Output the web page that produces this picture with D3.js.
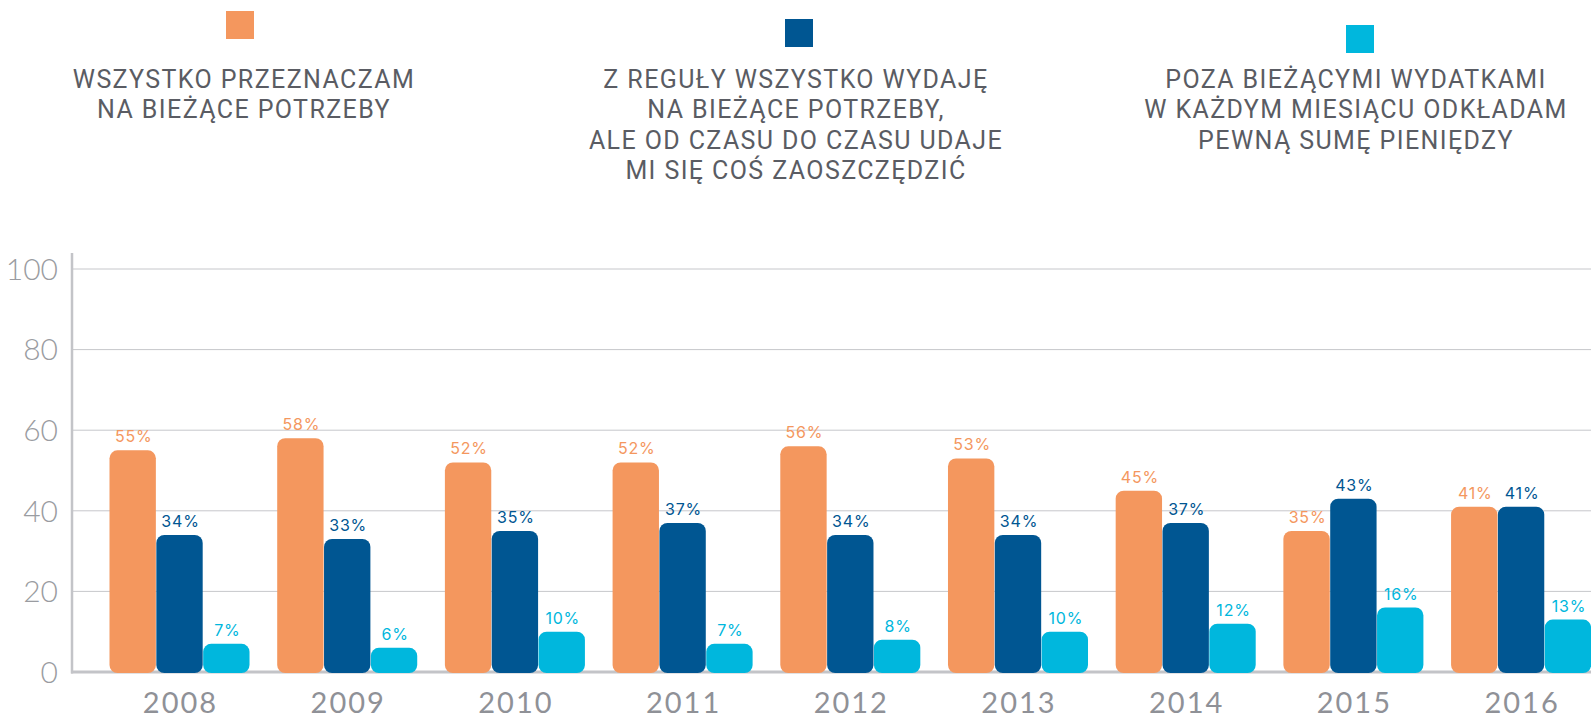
<!DOCTYPE html>
<html>
<head>
<meta charset="utf-8">
<script src="https://cdn.jsdelivr.net/npm/d3@7"></script>
<style>
  html, body { margin: 0; padding: 0; background: #ffffff; }
  svg { display: block; }
</style>
</head>
<body>
<svg id="chart" width="1591" height="720"></svg>
<script>
// Survey years and answer shares (%)
const years = ["2008", "2009", "2010", "2011", "2012", "2013", "2014", "2015", "2016"];
const spendAll = [55, 58, 52, 52, 56, 53, 45, 35, 41];
const spendMostlySaveSometimes = [34, 33, 35, 37, 34, 34, 37, 43, 41];
const saveMonthly = [7, 6, 10, 7, 8, 10, 12, 16, 13];
const yTicks = [0, 20, 40, 60, 80, 100];

const seriesNames = [
  ["WSZYSTKO PRZEZNACZAM", "NA BIEŻĄCE POTRZEBY"],
  ["Z REGUŁY WSZYSTKO WYDAJĘ", "NA BIEŻĄCE POTRZEBY,", "ALE OD CZASU DO CZASU UDAJE", "MI SIĘ COŚ ZAOSZCZĘDZIĆ"],
  ["POZA BIEŻĄCYMI WYDATKAMI", "W KAŻDYM MIESIĄCU ODKŁADAM", "PEWNĄ SUMĘ PIENIĘDZY"]
];
const seriesKeys = ["a", "b", "c"];
const colors = ["#f4975e", "#005692", "#00b7dd"];

const rows = years.map((y, i) => ({
  year: y,
  a: spendAll[i],
  b: spendMostlySaveSometimes[i],
  c: saveMonthly[i]
}));

const svg = d3.select("#chart");
const W = 1591;

const y = d3.scaleLinear().domain([0, 100]).range([672, 269]);

const x = d3.scaleBand()
  .domain(years)
  .range([109.5, 1591.1])
  .paddingInner(0.165)
  .paddingOuter(0);

const xInner = d3.scaleBand()
  .domain(seriesKeys)
  .range([0, x.bandwidth()])
  .paddingInner(0.01);

// Horizontal gridlines
svg.append("g")
  .selectAll("line")
  .data(yTicks.filter(t => t > 0))
  .join("line")
  .attr("x1", 72).attr("x2", W)
  .attr("y1", d => y(d)).attr("y2", d => y(d))
  .attr("stroke", "#c6c7cb")
  .attr("stroke-width", 1);

// Axis lines
svg.append("line")
  .attr("x1", 72).attr("x2", 72)
  .attr("y1", 253).attr("y2", y(0) + 1.5)
  .attr("stroke", "#c3c4c8").attr("stroke-width", 2.5);
svg.append("line")
  .attr("x1", 71).attr("x2", W)
  .attr("y1", y(0)).attr("y2", y(0))
  .attr("stroke", "#c3c4c8").attr("stroke-width", 3);

// Y tick labels
svg.append("g")
  .selectAll("text")
  .data(yTicks)
  .join("text")
  .attr("x", 58)
  .attr("y", d => y(d))
  .attr("dy", "0.36em")
  .attr("text-anchor", "end")
  .attr("font-family", "Lato")
  .attr("font-weight", 300)
  .attr("font-size", 30)
  .attr("fill", "#9a9ca1")
  .text(d => d);

// Bars
const groups = svg.append("g")
  .selectAll("g")
  .data(rows)
  .join("g")
  .attr("transform", d => `translate(${x(d.year)},0)`);

groups.selectAll("rect")
  .data(d => seriesKeys.map((k, j) => ({ key: k, value: d[k], color: colors[j] })))
  .join("rect")
  .attr("x", d => xInner(d.key))
  .attr("y", d => y(d.value))
  .attr("width", xInner.bandwidth())
  .attr("height", d => y(0) + 1 - y(d.value))
  .attr("rx", 8).attr("ry", 8)
  .attr("fill", d => d.color);

// Value labels
groups.selectAll("text")
  .data(d => seriesKeys.map((k, j) => ({ key: k, value: d[k], color: colors[j] })))
  .join("text")
  .attr("x", d => xInner(d.key) + xInner.bandwidth() / 2 + 1)
  .attr("y", d => y(d.value) - 8)
  .attr("text-anchor", "middle")
  .attr("font-family", "Inter")
  .attr("font-weight", 400)
  .attr("font-size", 16)
  .attr("letter-spacing", 0.8)
  .attr("fill", d => d.color)
  .text(d => d.value + "%");

// Year labels
svg.append("g")
  .selectAll("text")
  .data(years)
  .join("text")
  .attr("x", d => x(d) + x.bandwidth() / 2 + 1)
  .attr("y", 713)
  .attr("text-anchor", "middle")
  .attr("font-family", "Lato")
  .attr("font-weight", 400)
  .attr("font-size", 29)
  .attr("letter-spacing", 2)
  .attr("fill", "#8f9197")
  .text(d => d);

// Legend
const legendCenters = [244, 796, 1356];
const squareCenters = [240, 799, 1360];
const legendSquareTop = [11, 19, 25];

seriesNames.forEach((lines, j) => {
  const g = svg.append("g");
  g.append("rect")
    .attr("x", squareCenters[j] - 14)
    .attr("y", legendSquareTop[j])
    .attr("width", 28).attr("height", 28)
    .attr("fill", colors[j]);
  g.selectAll("text")
    .data(lines)
    .join("text")
    .attr("x", legendCenters[j])
    .attr("y", (d, i) => 88 + i * 30.3)
    .attr("text-anchor", "middle")
    .attr("font-family", "Roboto")
    .attr("font-weight", 400)
    .attr("font-size", 25)
    .attr("letter-spacing", 1.4)
    .attr("fill", "#5a5c63")
    .text(d => d);
});
</script>
</body>
</html>
